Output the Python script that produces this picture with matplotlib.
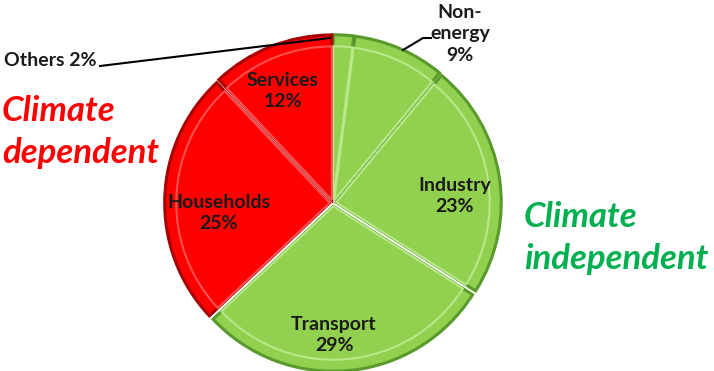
import matplotlib.pyplot as plt
import numpy as np

# Daten (im Uhrzeigersinn ab 12 Uhr)
sectors = ['Others', 'Non-\nenergy', 'Industry', 'Transport', 'Households', 'Services']
shares = [2, 9, 23, 29, 25, 12]
groups = ['ind', 'ind', 'ind', 'ind', 'dep', 'dep']

face = {'ind': '#92D050', 'dep': '#FF0000'}
edge = {'ind': '#5A9A2C', 'dep': '#A80000'}
light = {'ind': '#B8E888', 'dep': '#FF5050'}

fig = plt.figure(figsize=(7.14, 3.71), dpi=100)
ax = fig.add_axes([0, 0, 1, 1])

R = 165.0
cx, cy = 333.0, 203.0

colors = [face[g] for g in groups]
explode = [0.02] * len(shares)

wedges, _ = ax.pie(shares, startangle=90, counterclock=False, colors=colors,
                   explode=explode, radius=1.0,
                   wedgeprops=dict(linewidth=2.2))
# innerer Rand für Relief-Effekt
inner, _ = ax.pie(shares, startangle=90, counterclock=False, colors=colors,
                  explode=explode, radius=0.93,
                  wedgeprops=dict(linewidth=1.5))
for w, g in zip(inner, groups):
    w.set_edgecolor(light[g])
for w, g in zip(wedges, groups):
    w.set_edgecolor(edge[g])

# Achsengrenzen erst nach pie() setzen
ax.set_xlim(-cx / R, (714 - cx) / R)
ax.set_ylim(-(371 - cy) / R, cy / R)
ax.set_aspect('equal')
ax.axis('off')

fam = ['Lato', 'DejaVu Sans']
lab = dict(fontsize=14, fontweight='bold', color='#1a1a1a', ha='center', va='center', family=fam)

def px(x, y):
    return (x - cx) / R, (cy - y) / R

# Beschriftungen innerhalb der Segmente
positions = {
    'Services': (283, 91),
    'Households': (219, 213),
    'Transport': (334, 335),
    'Industry': (455, 196),
}
for name, val in zip(sectors, shares):
    if name in positions:
        x, y = px(*positions[name])
        ax.text(x, y, f'{name}\n{val}%', linespacing=1.35, **lab)

# Non-energy mit Führungslinie
x, y = px(460, 34)
ax.text(x, y, f'{sectors[1]}\n{shares[1]}%', linespacing=1.3, **lab)
ax.plot(*zip(px(403, 50), px(423, 38), px(431, 38)), color='black', lw=1.5)

# Others mit Führungslinie
x, y = px(4, 60)
ax.text(x, y, f'{sectors[0]} {shares[0]}%', fontsize=14, fontweight='bold',
        color='#1a1a1a', ha='left', va='center', family=fam)
ax.plot(*zip(px(100, 66), px(330, 38)), color='black', lw=1.5)

# Gruppenbeschriftungen
ax.text(*px(2, 132), 'Climate\ndependent', fontsize=25, fontweight='bold', style='italic',
        color='#FF0000', ha='left', va='center', linespacing=1.35, family=fam)
ax.text(*px(524, 238), 'Climate\nindependent', fontsize=25, fontweight='bold', style='italic',
        color='#00B050', ha='left', va='center', linespacing=1.35, family=fam)

fig.savefig('out.png', dpi=100)
